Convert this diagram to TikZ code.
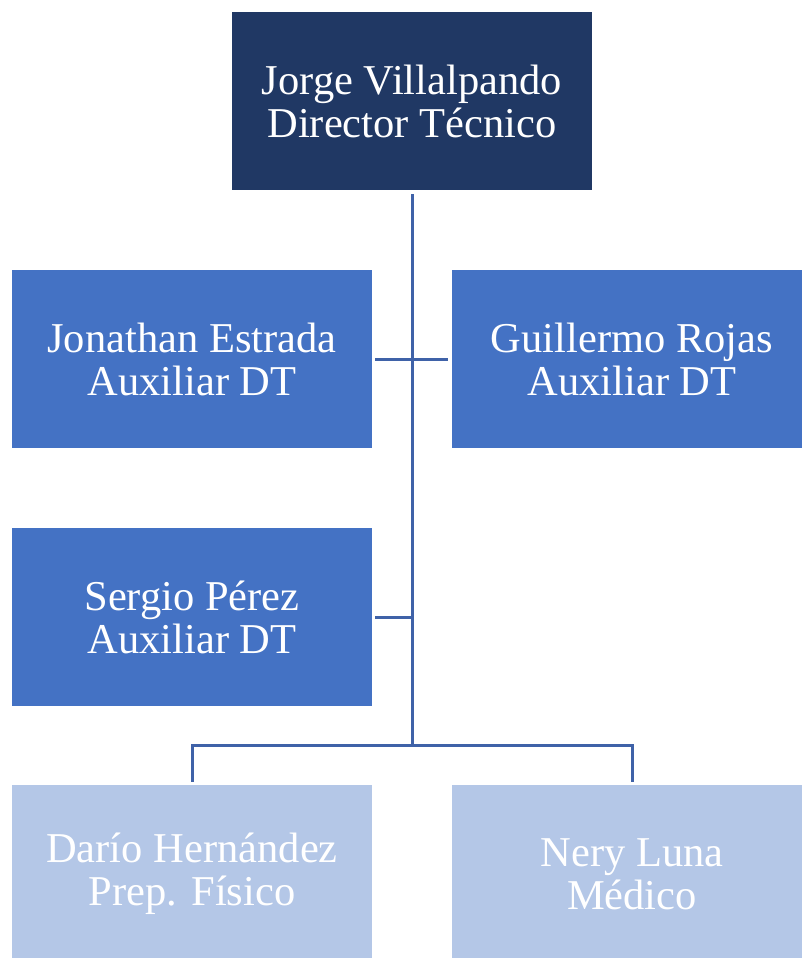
\documentclass[tikz,border=0pt]{standalone}
\usepackage{fontspec}
\setmainfont{Liberation Serif}
\definecolor{navy}{HTML}{203864}
\definecolor{midblue}{HTML}{4472C4}
\definecolor{lightblue}{HTML}{B4C7E7}
\definecolor{conn}{HTML}{3F62A8}
\begin{document}
\begin{tikzpicture}[x=1pt,y=-1pt,
  box/.style={rectangle, minimum width=360pt, minimum height=178pt, inner sep=0pt, align=center, text=white, font=\fontsize{42.5}{43}\selectfont},
  link/.style={draw=conn, line width=3pt}]
\useasboundingbox (0,0) rectangle (801,958);
\node[box, fill=navy] (dt) at (412,101) {Jorge Villalpando\\Director Técnico};
\node[box, fill=midblue] (je) at (192,359) {Jonathan Estrada\\Auxiliar DT};
\node[box, fill=midblue] (gr) at (632,359) {Guillermo Rojas\\Auxiliar DT};
\node[box, fill=midblue] (sp) at (192,617) {Sergio Pérez\\Auxiliar DT};
\node[box, fill=lightblue] (dh) at (192,874) {Darío Hernández\\Prep. Físico};
\node[box, fill=lightblue] (nl) at (632,874) {Nery Luna\\Médico};
\coordinate (j1) at (412,745);
\draw[link] ([yshift=-4pt]dt.south) -- (j1);
\draw[link] ([xshift=3pt]je.east) -- ([xshift=-4pt]gr.west);
\draw[link] ([xshift=3pt]sp.east) -- (sp.east -| dt.south);
\draw[link] ([yshift=3pt]dh.north) |- (j1) -| ([yshift=3pt]nl.north);
\end{tikzpicture}
\end{document}
